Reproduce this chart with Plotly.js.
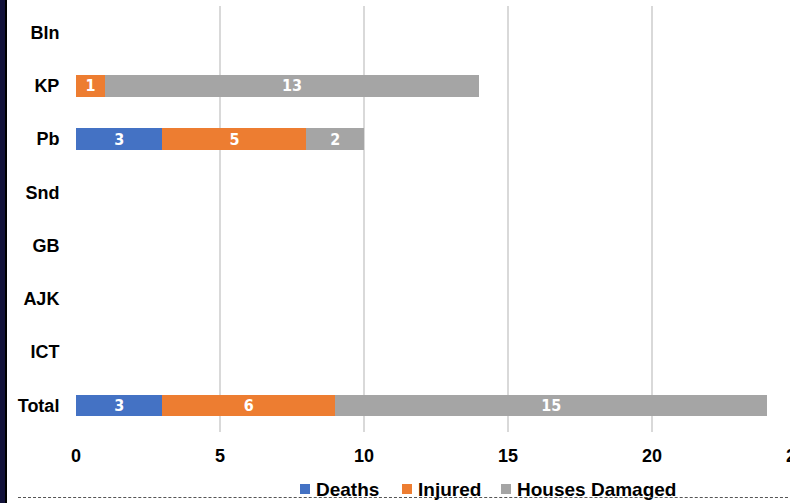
<!DOCTYPE html>
<html>
<head>
<meta charset="utf-8">
<script src="https://cdn.plot.ly/plotly-3.0.1.min.js"></script>
<style>
html,body{margin:0;padding:0;width:790px;height:503px;overflow:hidden;background:#fff;}
#chart{position:absolute;left:0;top:0;width:830px;height:503px;}
#strip{position:absolute;left:0;top:0;width:5px;height:503px;background:#12123a;}
#line{position:absolute;left:5px;top:0;width:2px;height:503px;background:#000;}
#dash{position:absolute;left:18px;top:497px;width:780px;height:0;border-top:1.5px dashed #555;}
</style>
</head>
<body>
<div id="chart"></div>
<div id="strip"></div>
<div id="line"></div>
<div id="dash"></div>
<script>
const categories = ["Bln","KP","Pb","Snd","GB","AJK","ICT","Total"];
const deaths = [null,null,3,null,null,null,null,3];
const injured = [null,1,5,null,null,null,null,6];
const housesDamaged = [null,13,2,null,null,null,null,15];
const seriesNames = ["Deaths","Injured","Houses Damaged"];
const seriesColors = ["#4472C4","#ED7D31","#A5A5A5"];
const xTicks = [0,5,10,15,20,25];

const W = 830, H = 503;
const M = {l:76, r:34, t:6, b:71};
const PW = W - M.l - M.r, PH = H - M.t - M.b;
const px = p => (p - M.l) / PW;          // page x -> paper x
const py = p => (H - M.b - p) / PH;      // page y -> paper y

const seriesValues = [deaths, injured, housesDamaged];
const traces = seriesValues.map((vals,i)=>({
  type:"bar",
  orientation:"h",
  name: seriesNames[i],
  y: categories,
  x: vals,
  marker:{color: seriesColors[i]},
  text: vals.map(v => v==null ? "" : String(v)),
  textposition:"inside",
  insidetextanchor:"middle",
  textangle:0,
  constraintext:"none",
  textfont:{family:"'DejaVu Sans Condensed', 'Liberation Sans Narrow', Arial, sans-serif", size:16, color:"#fff", weight:"bold"},
  hoverinfo:"skip",
  showlegend:false
}));

// manual legend (square + label)
const legendX = [300, 402, 501];
const legendY = 489;
const shapes = [], annotations = [];
seriesNames.forEach((n,i)=>{
  shapes.push({type:"rect", xref:"paper", yref:"paper",
    x0:px(legendX[i]), x1:px(legendX[i]+10), y0:py(legendY+5), y1:py(legendY-5),
    fillcolor:seriesColors[i], line:{width:0}});
  annotations.push({xref:"paper", yref:"paper", x:px(legendX[i]+14), y:py(legendY),
    xanchor:"left", yanchor:"middle", showarrow:false, text:n,
    font:{size:19, weight:"bold", color:"#000"}});
});

const layout = {
  width:W, height:H,
  margin:{l:M.l, r:M.r, t:M.t, b:M.b, pad:0},
  barmode:"stack",
  bargap:0.6,
  showlegend:false,
  plot_bgcolor:"#fff",
  paper_bgcolor:"rgba(0,0,0,0)",
  font:{family:"Arial, 'Liberation Sans', sans-serif", color:"#000"},
  xaxis:{
    range:[0,25],
    tickvals:xTicks,
    ticktext:xTicks.map(String),
    showgrid:true, gridcolor:"#d9d9d9", gridwidth:1.5,
    zeroline:false, showline:false,
    tickfont:{size:18, weight:"bold", color:"#000"},
    ticks:"outside", ticklen:7, tickcolor:"rgba(0,0,0,0)",
    automargin:false
  },
  yaxis:{
    type:"category",
    categoryorder:"array",
    categoryarray:categories,
    autorange:"reversed",
    showgrid:false, zeroline:false, showline:false,
    ticks:"outside", ticklen:12, tickcolor:"rgba(0,0,0,0)",
    tickfont:{size:18, weight:"bold", color:"#000"},
    automargin:false
  },
  shapes: shapes,
  annotations: annotations
};

Plotly.newPlot("chart", traces, layout, {displayModeBar:false, staticPlot:true});
</script>
</body>
</html>
